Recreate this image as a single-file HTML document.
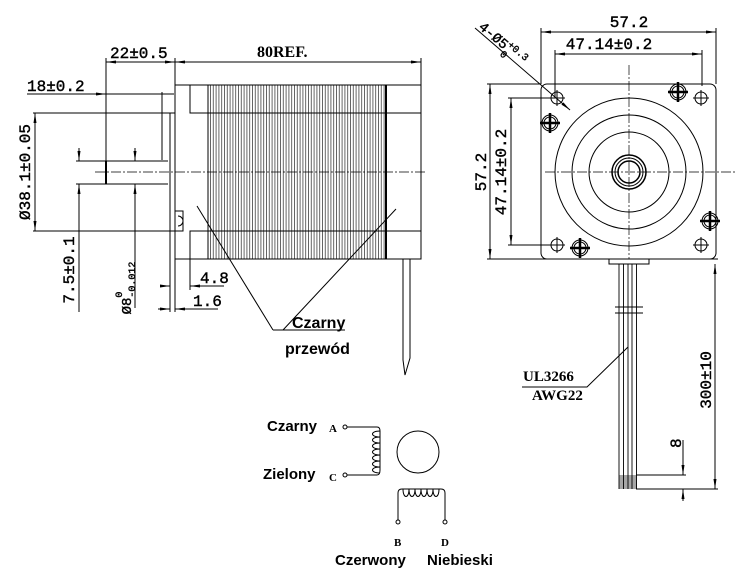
<!DOCTYPE html>
<html><head><meta charset="utf-8"><style>
html,body{margin:0;padding:0;background:#fff;width:750px;height:578px;overflow:hidden}
svg{display:block}
.d{font-family:"Liberation Serif",serif;font-weight:bold;font-size:16px;fill:#000}
.m{font-family:"Liberation Mono",monospace;font-size:16px;fill:#000;stroke:#000;stroke-width:0.4}
.s{font-family:"Liberation Sans",sans-serif;font-weight:bold;font-size:15px;fill:#000}
</style></head><body>
<svg width="750" height="578" viewBox="0 0 750 578" xmlns="http://www.w3.org/2000/svg">
<defs>
<pattern id="h" width="2.8" height="10" patternUnits="userSpaceOnUse"><line x1="0.5" y1="0" x2="0.5" y2="10" stroke="#000" stroke-width="0.6"/></pattern>
<marker id="a" viewBox="0 0 10 6" refX="10" refY="3" markerWidth="10" markerHeight="6" orient="auto-start-reverse" markerUnits="userSpaceOnUse"><path d="M0,1.5 L10,3 L0,4.5z" fill="#000"/></marker>
</defs>
<g stroke="#000" stroke-width="1" fill="none">
<rect x="208" y="85" width="178" height="174" fill="url(#h)" stroke="none"/>
<rect x="175" y="85" width="246" height="174"/>
<line x1="386" y1="85" x2="386" y2="259" stroke-width="2"/>
<line x1="208" y1="85" x2="208" y2="259"/>
<polyline points="190,85 190,113 421,113"/>
<polyline points="190,259 190,231 421,231"/>
<polyline points="175,113 170,113 170,231 175,231"/>
<rect x="175" y="211" width="8" height="20"/>
<path d="M178,216 a5,5 0 0 1 0,10"/>
<path d="M106,161 H168 M106,184 H168" />
<line x1="106" y1="161" x2="106" y2="184" stroke-width="2"/>
<line x1="95" y1="172" x2="427" y2="172" stroke-dasharray="10,2,2,2" stroke-width="0.7"/>
<path d="M403,259 V360 L405,375 M410,259 V358 L405,375"/>
<line x1="175" y1="62" x2="421" y2="62" marker-start="url(#a)" marker-end="url(#a)"/>
<line x1="421" y1="58" x2="421" y2="85"/>
<line x1="175" y1="58" x2="175" y2="85"/>
<line x1="106" y1="58" x2="106" y2="161"/>
<line x1="106" y1="62" x2="175" y2="62" marker-start="url(#a)" marker-end="url(#a)"/>
<line x1="27" y1="94" x2="174" y2="94"/>
<line x1="95" y1="94" x2="106" y2="94" marker-end="url(#a)"/>
<line x1="162" y1="92" x2="162" y2="160"/>
<line x1="33" y1="113" x2="170" y2="113"/>
<line x1="33" y1="231" x2="170" y2="231"/>
<line x1="35" y1="113" x2="35" y2="231" marker-start="url(#a)" marker-end="url(#a)"/>
<line x1="76" y1="161" x2="106" y2="161"/>
<line x1="76" y1="184" x2="106" y2="184"/>
<line x1="79" y1="148" x2="79" y2="161" marker-end="url(#a)"/>
<line x1="79" y1="312" x2="79" y2="184" marker-end="url(#a)"/>
<line x1="135" y1="148" x2="135" y2="161" marker-end="url(#a)"/>
<line x1="135" y1="308" x2="135" y2="184" marker-end="url(#a)"/>
<line x1="170" y1="231" x2="170" y2="312"/>
<line x1="175" y1="259" x2="175" y2="312"/>
<line x1="190" y1="259" x2="190" y2="290"/>
<line x1="162" y1="286" x2="170" y2="286" marker-end="url(#a)"/>
<line x1="190" y1="286" x2="224" y2="286" marker-start="url(#a)"/>
<line x1="158" y1="309" x2="170" y2="309" marker-end="url(#a)"/>
<line x1="185" y1="309" x2="175" y2="309" marker-end="url(#a)"/>
<line x1="185" y1="309" x2="218" y2="309"/>
<path d="M197,206 L273,330 M396,209 L283,330 M273,330 H345"/>
<rect x="541" y="84" width="175" height="175" rx="6"/>
<circle cx="629" cy="172" r="74"/>
<circle cx="629" cy="172" r="57"/>
<circle cx="629" cy="172" r="40"/>
<circle cx="629" cy="172" r="17" stroke-width="1.5"/>
<circle cx="629" cy="172" r="14"/>
<circle cx="629" cy="172" r="11" stroke-width="1.5"/>
<line x1="545" y1="172" x2="735" y2="172" stroke-dasharray="10,2,2,2" stroke-width="0.7"/>
<line x1="629" y1="65" x2="629" y2="259" stroke-dasharray="10,2,2,2" stroke-width="0.7"/>
<g>
<circle cx="557" cy="98" r="6"/><path d="M549,98 H565 M557,90 V106"/>
<circle cx="701" cy="98" r="6"/><path d="M693,98 H709 M701,90 V106"/>
<circle cx="557" cy="245" r="6"/><path d="M549,245 H565 M557,237 V253"/>
<circle cx="701" cy="245" r="6"/><path d="M693,245 H709 M701,237 V253"/>
</g>
<g>
<circle cx="678" cy="92" r="8"/><circle cx="678" cy="92" r="6"/><path d="M668,92 H688 M678,82 V102" stroke-width="2.5"/>
<circle cx="550" cy="123" r="8"/><circle cx="550" cy="123" r="6"/><path d="M540,123 H560 M550,113 V133" stroke-width="2.5"/>
<circle cx="710" cy="221" r="8"/><circle cx="710" cy="221" r="6"/><path d="M700,221 H720 M710,211 V231" stroke-width="2.5"/>
<circle cx="580" cy="248" r="8"/><circle cx="580" cy="248" r="6"/><path d="M570,248 H590 M580,238 V258" stroke-width="2.5"/>
</g>
<line x1="541" y1="32" x2="716" y2="32" marker-start="url(#a)" marker-end="url(#a)"/>
<line x1="541" y1="28" x2="541" y2="84"/>
<line x1="716" y1="28" x2="716" y2="84"/>
<line x1="555" y1="54" x2="702" y2="54" marker-start="url(#a)" marker-end="url(#a)"/>
<line x1="555" y1="50" x2="555" y2="98"/>
<line x1="702" y1="50" x2="702" y2="86"/>
<line x1="490" y1="84" x2="490" y2="259" marker-start="url(#a)" marker-end="url(#a)"/>
<line x1="487" y1="84" x2="541" y2="84"/>
<line x1="487" y1="259" x2="718" y2="259"/>
<line x1="511" y1="98" x2="511" y2="245" marker-start="url(#a)" marker-end="url(#a)"/>
<line x1="508" y1="98" x2="557" y2="98"/>
<line x1="508" y1="245" x2="557" y2="245"/>
<line x1="475" y1="28" x2="570" y2="110" marker-end="url(#a)"/>
<rect x="609" y="259" width="40" height="5"/>
<path d="M619,264 V489 M623.5,264 V489 M628,264 V489 M632,264 V489 M636.5,264 V489" stroke-width="0.9"/>
<path d="M615,307 H643 M615,313 H643"/>
<rect x="619" y="475" width="18" height="14" fill="#000" stroke="none" opacity="0.35"/>
<line x1="715" y1="264" x2="715" y2="489" marker-start="url(#a)" marker-end="url(#a)"/>
<line x1="636" y1="489" x2="718" y2="489"/>
<line x1="636" y1="475" x2="686" y2="475"/>
<line x1="683" y1="440" x2="683" y2="475" marker-end="url(#a)"/>
<line x1="683" y1="501" x2="683" y2="489" marker-end="url(#a)"/>
<path d="M628,347 L587,387 H522"/>
<circle cx="345" cy="427" r="2"/><circle cx="345" cy="475" r="2"/>
<path d="M347,427 H377 Q380,427 380,431 V470 Q380,475 377,475 H347"/>
<path d="M380,431 c-10,0 -10,6 0,6 c-10,0 -10,6 0,6 c-10,0 -10,6 0,6 c-10,0 -10,6 0,6 c-10,0 -10,6 0,6 c-10,0 -10,6 0,6 c-10,0 -10,6 0,6"/>
<circle cx="418" cy="452" r="21"/>
<circle cx="398" cy="522" r="2"/><circle cx="445" cy="522" r="2"/>
<path d="M398,520 V493 Q398,489 402,489 H441 Q445,489 445,493 V520"/>
<path d="M403,489 c0,10 6,10 6,0 c0,10 6,10 6,0 c0,10 6,10 6,0 c0,10 6,10 6,0 c0,10 6,10 6,0 c0,10 6,10 6,0"/>
</g>
<text class="m" x="110" y="58">22±0.5</text>
<text class="d" x="257" y="57">80REF.</text>
<text class="m" x="27" y="91">18±0.2</text>
<text class="m" transform="translate(30,172) rotate(-90)" text-anchor="middle">Ø38.1±0.05</text>
<text class="m" transform="translate(74,270) rotate(-90)" text-anchor="middle">7.5±0.1</text>
<text class="m" transform="translate(131,288) rotate(-90)" text-anchor="middle" style="font-size:14px">Ø8<tspan dy="-9" style="font-size:10px">0</tspan><tspan dx="-6" dy="13" style="font-size:10px">-0.012</tspan></text>
<text class="m" x="200" y="283">4.8</text>
<text class="m" x="193" y="306">1.6</text>
<text class="s" x="292" y="328" style="font-size:16px">Czarny</text>
<text class="s" x="285" y="354" style="font-size:16px">przewód</text>
<text class="m" x="629" y="27" text-anchor="middle">57.2</text>
<text class="m" x="609" y="49" text-anchor="middle">47.14±0.2</text>
<text class="m" transform="translate(486,172) rotate(-90)" text-anchor="middle">57.2</text>
<text class="m" transform="translate(506,172) rotate(-90)" text-anchor="middle">47.14±0.2</text>
<text class="m" transform="translate(478,28) rotate(40)" style="font-size:14px">4-Ø5<tspan dy="-5" style="font-size:10px">+0.3</tspan><tspan dx="-24" dy="12" style="font-size:10px">0</tspan></text>
<text class="m" transform="translate(711,380) rotate(-90)" text-anchor="middle">300±10</text>
<text class="m" transform="translate(681,448) rotate(-90)">8</text>
<text class="d" x="523" y="381" style="font-size:15px">UL3266</text>
<text class="d" x="532" y="400" style="font-size:15px">AWG22</text>
<text class="s" x="267" y="431">Czarny</text>
<text class="s" x="263" y="479">Zielony</text>
<text class="d" x="329" y="432" style="font-size:11px">A</text>
<text class="d" x="329" y="481" style="font-size:11px">C</text>
<text class="d" x="394" y="546" style="font-size:11px">B</text>
<text class="d" x="441" y="546" style="font-size:11px">D</text>
<text class="s" x="335" y="565">Czerwony</text>
<text class="s" x="427" y="565">Niebieski</text>
</svg>
</body></html>
